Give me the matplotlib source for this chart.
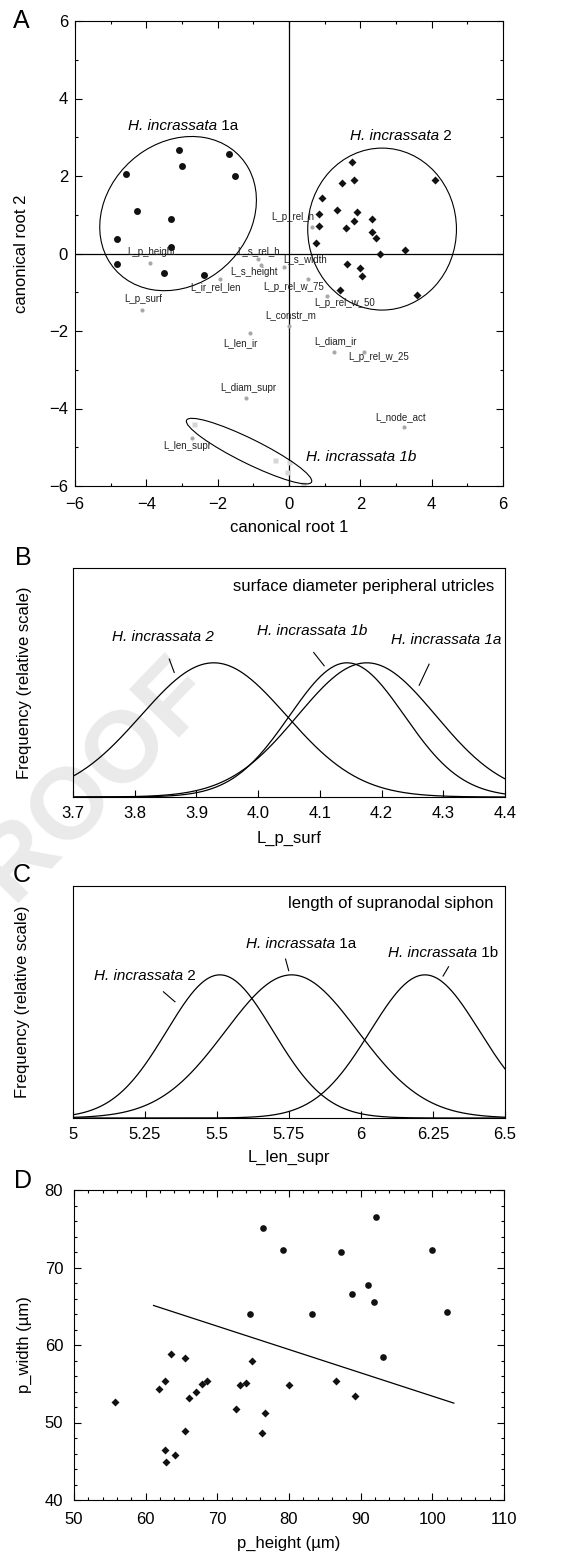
import numpy as np
import matplotlib
matplotlib.use("Agg")
import matplotlib.pyplot as plt
from matplotlib.patches import Ellipse
from matplotlib.ticker import MultipleLocator, FixedLocator

plt.rcParams['font.family'] = ['Liberation Sans', 'DejaVu Sans']
plt.rcParams['axes.linewidth'] = 0.8

# ---------------- Panel A data ----------------
g1a_x = [-3.08, -1.69, -4.57, -2.99, -1.51, -4.25, -3.32, -4.81, -3.32, -4.81, -3.50, -2.38]
g1a_y = [2.66, 2.57, 2.05, 2.25, 2.01, 1.09, 0.90, 0.38, 0.16, -0.26, -0.50, -0.55]
g2_x = [1.77, 4.08, 1.49, 1.82, 0.93, 0.84, 1.35, 1.91, 2.34, 0.84, 1.82, 1.59,
        2.34, 2.43, 0.75, 3.26, 2.56, 1.64, 2.00, 2.06, 1.44, 3.59]
g2_y = [2.36, 1.90, 1.81, 1.90, 1.43, 1.02, 1.11, 1.07, 0.88, 0.72, 0.84, 0.65,
        0.55, 0.41, 0.28, 0.09, -0.01, -0.28, -0.38, -0.57, -0.93, -1.06]
g1b_x = [-2.67, -0.40, 0.00, -0.05, 0.38]
g1b_y = [-4.40, -5.33, -5.37, -5.65, -5.95]

var_names = ["L_p_rel_h", "L_p_height", "L_s_rel_h", "L_s_height", "L_s_width",
             "L_ir_rel_len", "L_p_rel_w_75", "L_p_rel_w_50", "L_p_surf", "L_constr_m",
             "L_len_ir", "L_diam_ir", "L_p_rel_w_25", "L_diam_supr", "L_node_act", "L_len_supr"]
var_x = [0.65, -3.89, -0.87, -0.78, -0.14, -1.94, 0.52, 1.07, -4.12, 0.01,
         -1.10, 1.26, 2.10, -1.20, 3.22, -2.73]
var_y = [0.68, -0.24, -0.15, -0.30, -0.34, -0.66, -0.66, -1.09, -1.45, -1.87,
         -2.06, -2.53, -2.53, -3.73, -4.48, -4.76]
var_lx = [0.11, -3.86, -0.84, -0.97, 0.45, -2.07, 0.14, 1.57, -4.08, 0.06,
          -1.35, 1.31, 2.51, -1.15, 3.14, -2.86]
var_ly = [0.93, 0.03, 0.07, -0.47, -0.15, -0.86, -0.86, -1.27, -1.18, -1.59,
          -2.30, -2.26, -2.68, -3.47, -4.22, -4.96]

# confidence ellipses: center x, center y, width, height, angle
ell_1a = (-3.11, 1.03, 4.59, 3.75, 30.2)
ell_2 = (2.61, 0.63, 4.17, 4.18, 0.0)
ell_1b = (-1.12, -5.10, 3.85, 0.64, -24.4)

# ---------------- Panel B data (normal curves) ----------------
b_groups = ["H. incrassata 2", "H. incrassata 1b", "H. incrassata 1a"]
b_means = [3.928, 4.144, 4.176]
b_sds = [0.118, 0.093, 0.112]
b_ticks = [3.7, 3.8, 3.9, 4.0, 4.1, 4.2, 4.3, 4.4]

# ---------------- Panel C data (normal curves) ----------------
c_groups = ["2", "1a", "1b"]
c_means = [5.51, 5.759, 6.222]
c_sds = [0.185, 0.23, 0.19]
c_ticks = [5, 5.25, 5.5, 5.75, 6, 6.25, 6.5]

# ---------------- Panel D data ----------------
d_circ_x = [76.4, 79.2, 92.1, 87.2, 100.0, 91.0, 88.8, 91.9, 74.6, 83.2, 102.0, 93.1]
d_circ_y = [75.1, 72.2, 76.5, 72.0, 72.2, 67.8, 66.6, 65.6, 64.0, 64.0, 64.2, 58.4]
d_diam_x = [55.7, 61.8, 62.7, 63.6, 65.5, 66.0, 67.0, 67.8, 68.6, 65.5, 62.7, 64.1,
            62.9, 72.6, 73.2, 74.0, 74.9, 76.7, 76.3, 80.0, 86.6, 89.2]
d_diam_y = [52.7, 54.3, 55.3, 58.8, 58.3, 53.1, 53.9, 55.0, 55.3, 48.9, 46.4, 45.8,
            44.9, 51.8, 54.8, 55.1, 57.9, 51.2, 48.7, 54.8, 55.3, 53.4]
d_line_x = [61.1, 103.0]
d_line_y = [65.1, 52.5]

W, H = 567, 1555
fig = plt.figure(figsize=(W / 100, H / 100), dpi=100)


def rect(l, t, r, b):
    return [l / W, 1 - b / H, (r - l) / W, (b - t) / H]


def mixed_label(ax, x, y, ital, rest, fs, transform=None):
    kw = {} if transform is None else {'transform': transform}
    t = ax.text(x, y, ital, style='italic', ha='left', va='center', fontsize=fs, **kw)
    ax.annotate(rest, xy=(1, 0), xycoords=t, ha='left', va='bottom', fontsize=fs)


# watermark
fig.text(72 / W, 1 - 804 / H, "PROOF", rotation=46, fontsize=73, fontweight='bold',
         color='#eaeaea', ha='center', va='center', rotation_mode='anchor', zorder=-5)

lw = 0.9
tick_fs = 12

# ================= Panel A =================
axA = fig.add_axes(rect(75, 21, 503, 486))
axA.patch.set_visible(False)
axA.set_xlim(-6, 6)
axA.set_ylim(-6, 6)
axA.axhline(0, color='black', lw=lw, zorder=1)
axA.axvline(0, color='black', lw=lw, zorder=1)
for (cx, cy, w, h, a) in [ell_1a, ell_2, ell_1b]:
    axA.add_patch(Ellipse((cx, cy), w, h, angle=a, fill=False, ec='black', lw=0.8, zorder=3))
axA.plot(g1b_x, g1b_y, 's', ms=3.6, color='#d6d6d6', mec='none', zorder=2, clip_on=False)
axA.plot(var_x, var_y, 'o', ms=3.0, color='#a8a8a8', mec='none', zorder=2)
for n, lx, ly in zip(var_names, var_lx, var_ly):
    axA.text(lx, ly, n, fontsize=7, ha='center', va='center', color='#222222', zorder=4)
axA.plot(g1a_x, g1a_y, 'o', ms=5.0, color='#111111', mec='none', zorder=5)
axA.plot(g2_x, g2_y, 'D', ms=4.0, color='#111111', mec='none', zorder=5)
mixed_label(axA, -4.51, 3.28, "H. incrassata", " 1a", 11)
mixed_label(axA, 1.72, 3.02, "H. incrassata", " 2", 11)
axA.text(2.01, -5.26, "H. incrassata 1b", fontsize=11, style='italic', ha='center', va='center')
axA.xaxis.set_major_locator(MultipleLocator(2))
axA.xaxis.set_minor_locator(MultipleLocator(1))
axA.yaxis.set_major_locator(MultipleLocator(2))
axA.yaxis.set_minor_locator(MultipleLocator(1))
axA.tick_params(which='both', direction='in', top=True, right=True, width=0.8, labelsize=tick_fs)
axA.tick_params(which='major', length=5)
axA.tick_params(which='minor', length=2.5)
axA.tick_params(axis='x', which='both', pad=8)
axA.tick_params(axis='y', which='both', pad=5)
axA.set_xlabel("canonical root 1", fontsize=12, va='center')
axA.set_ylabel("canonical root 2", fontsize=12, va='center')
axA.xaxis.set_label_coords(0.5, -0.0903)
axA.yaxis.set_label_coords(-0.124, 0.5)


def curves(ax, means, sds, lo, hi):
    xs = np.linspace(lo, hi, 400)
    for m, s in zip(means, sds):
        ax.plot(xs, np.exp(-0.5 * ((xs - m) / s) ** 2), color='black', lw=lw)


# ================= Panel B =================
axB = fig.add_axes(rect(73, 568, 505, 797))
axB.patch.set_visible(False)
curves(axB, b_means, b_sds, 3.7, 4.4)
axB.set_xlim(3.7, 4.4)
axB.set_ylim(0, 1 / 0.586)
axB.set_yticks([])
axB.xaxis.set_major_locator(FixedLocator(b_ticks))
axB.set_xticklabels([f"{t:.1f}" for t in b_ticks])
axB.tick_params(axis='x', direction='in', length=5, width=0.8, labelsize=tick_fs, pad=6.5)
axB.set_xlabel("L_p_surf", fontsize=12, va='center')
axB.set_ylabel("Frequency (relative scale)", fontsize=12, va='center')
axB.xaxis.set_label_coords(0.5, -0.179)
axB.yaxis.set_label_coords(-0.113, 0.5)
tr = axB.get_xaxis_transform()
axB.text(0.975, 0.921, "surface diameter peripheral utricles", transform=axB.transAxes,
         fontsize=12, ha='right', va='center')
b_lab = [(3.846, 0.70), (4.088, 0.725), (4.305, 0.687)]
b_lead = [((3.856, 3.864), (0.602, 0.544)), ((4.090, 4.107), (0.631, 0.573)),
          ((4.277, 4.261), (0.580, 0.488))]
for g, (lx, ly), (lxs, lys) in zip(b_groups, b_lab, b_lead):
    axB.text(lx, ly, g, transform=tr, fontsize=11, style='italic', ha='center', va='center')
    axB.plot(lxs, lys, transform=tr, color='black', lw=0.8)

# ================= Panel C =================
axC = fig.add_axes(rect(73, 886, 505, 1118))
axC.patch.set_visible(False)
curves(axC, c_means, c_sds, 5.0, 6.5)
axC.set_xlim(5.0, 6.5)
axC.set_ylim(0, 1 / 0.617)
axC.set_yticks([])
axC.xaxis.set_major_locator(FixedLocator(c_ticks))
axC.set_xticklabels([f"{t:g}" for t in c_ticks])
axC.tick_params(axis='x', direction='in', length=5, width=0.8, labelsize=tick_fs, pad=6.5)
axC.set_xlabel("L_len_supr", fontsize=12, va='center')
axC.set_ylabel("Frequency (relative scale)", fontsize=12, va='center')
axC.xaxis.set_label_coords(0.5, -0.168)
axC.yaxis.set_label_coords(-0.116, 0.5)
trc = axC.get_xaxis_transform()
axC.text(0.9745, 0.925, "length of supranodal siphon", transform=axC.transAxes,
         fontsize=12, ha='right', va='center')
c_lab = [(5.073, 0.613), (5.601, 0.750), (6.093, 0.712)]
c_lead = [((5.314, 5.354), (0.544, 0.501)), ((5.738, 5.749), (0.685, 0.635)),
          ((6.304, 6.285), (0.652, 0.612))]
for g, (lx, ly), (lxs, lys) in zip(c_groups, c_lab, c_lead):
    mixed_label(axC, lx, ly, "H. incrassata", " " + g, 11, transform=trc)
    axC.plot(lxs, lys, transform=trc, color='black', lw=0.8)

# ================= Panel D =================
axD = fig.add_axes(rect(74, 1190, 504, 1500))
axD.patch.set_visible(False)
axD.plot(d_circ_x, d_circ_y, 'o', ms=4.8, color='#111111', mec='none')
axD.plot(d_diam_x, d_diam_y, 'D', ms=3.6, color='#111111', mec='none')
axD.plot(d_line_x, d_line_y, color='black', lw=lw)
axD.set_xlim(50, 110)
axD.set_ylim(40, 80)
axD.xaxis.set_major_locator(MultipleLocator(10))
axD.xaxis.set_minor_locator(MultipleLocator(2))
axD.yaxis.set_major_locator(MultipleLocator(10))
axD.yaxis.set_minor_locator(MultipleLocator(2))
axD.tick_params(which='both', direction='in', top=True, right=True, width=0.8, labelsize=tick_fs)
axD.tick_params(which='major', length=5)
axD.tick_params(which='minor', length=2.5)
axD.tick_params(axis='x', which='both', pad=8.5)
axD.tick_params(axis='y', which='both', pad=7.8)
axD.set_xlabel("p_height (µm)", fontsize=12, va='center')
axD.set_ylabel("p_width (µm)", fontsize=12, va='center')
axD.xaxis.set_label_coords(0.5, -0.139)
axD.yaxis.set_label_coords(-0.116, 0.5)

# panel letters
for letter, (px, py) in zip("ABCD", [(21, 21), (23, 558), (22, 875), (23, 1181)]):
    fig.text(px / W, 1 - py / H, letter, fontsize=18, ha='center', va='center')

fig.savefig("out.png", dpi=100)
